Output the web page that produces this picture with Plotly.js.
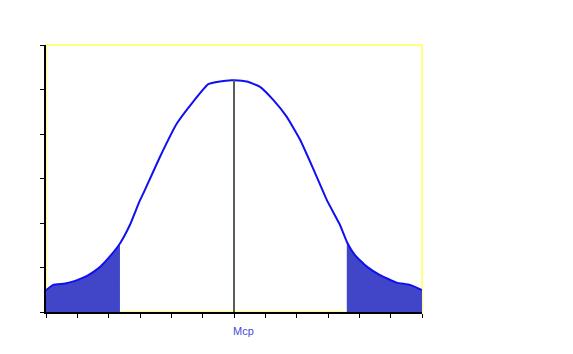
<!DOCTYPE html>
<html>
<head>
<meta charset="utf-8">
<script src="https://cdn.plot.ly/plotly-3.0.1.min.js"></script>
<style>html,body{margin:0;padding:0;background:#fff;}#chart{width:573px;height:354px;}</style>
</head>
<body>
<div id="chart"></div>
<script>
// Curve (x in tick units, centred on Mcp; y in axis-tick units)
const curveX = [-6, -5.77, -5.39, -5.07, -4.69, -4.33, -4.01, -3.64, -3.32, -3.02, -2.89, -2.36, -1.82, -1.30, -0.82, -0.45, -0.07, 0, 0.41, 0.83, 1.26, 1.68, 2.11, 2.54, 2.96, 3.38, 3.60, 3.86, 4.24, 4.66, 5.19, 5.62, 6];
const curveY = [0.49, 0.61, 0.64, 0.70, 0.81, 0.98, 1.21, 1.54, 1.96, 2.48, 2.67, 3.49, 4.24, 4.73, 5.12, 5.18, 5.21, 5.21, 5.18, 5.06, 4.76, 4.39, 3.87, 3.20, 2.52, 1.96, 1.58, 1.28, 1.02, 0.83, 0.66, 0.61, 0.49];
const lowerCut = -3.64;
const upperCut = 3.60;
const centreX = 0;
const centreLabel = "Mcp";
const xTicks = [-6,-5,-4,-3,-2,-1,0,1,2,3,4,5,6];
const yTicks = [0,1,2,3,4,5,6];

const leftX = [], leftY = [], rightX = [], rightY = [];
curveX.forEach((x, i) => {
  if (x <= lowerCut) { leftX.push(x); leftY.push(curveY[i]); }
  if (x >= upperCut) { rightX.push(x); rightY.push(curveY[i]); }
});
const peak = curveY[curveX.indexOf(centreX)];
const fillCol = '#4146c8';

const traces = [
  {x: leftX, y: leftY, type: 'scatter', mode: 'lines', fill: 'tozeroy', fillcolor: fillCol, line: {color: fillCol, width: 0, shape: 'spline', smoothing: 0.4}, hoverinfo: 'skip'},
  {x: rightX, y: rightY, type: 'scatter', mode: 'lines', fill: 'tozeroy', fillcolor: fillCol, line: {color: fillCol, width: 0, shape: 'spline', smoothing: 0.4}, hoverinfo: 'skip'},
  {x: curveX, y: curveY, type: 'scatter', mode: 'lines', line: {color: '#1010f0', width: 2, shape: 'spline', smoothing: 0.4}},
  {x: [centreX, centreX], y: [0, peak], type: 'scatter', mode: 'lines', line: {color: '#55605a', width: 2}}
];

const layout = {
  width: 573, height: 354,
  margin: {l: 46, r: 151, t: 45, b: 42},
  paper_bgcolor: '#ffffff', plot_bgcolor: '#ffffff',
  showlegend: false,
  font: {family: 'Arial, Liberation Sans, sans-serif'},
  xaxis: {
    range: [-6, 6], tickmode: 'array', tickvals: xTicks, showticklabels: false,
    ticks: 'outside', ticklen: 4, tickwidth: 1, tickcolor: '#000',
    showline: true, linecolor: '#000', linewidth: 2,
    showgrid: false, zeroline: false
  },
  yaxis: {
    range: [0, 6], tickmode: 'array', tickvals: yTicks, showticklabels: false,
    ticks: 'outside', ticklen: 4, tickwidth: 1, tickcolor: '#000',
    showline: true, linecolor: '#000', linewidth: 2,
    showgrid: false, zeroline: false
  },
  annotations: [
    {x: centreX, xref: 'x', xanchor: 'left', xshift: -3, y: 0, yref: 'paper', yanchor: 'middle', yshift: -19,
     text: centreLabel, showarrow: false, font: {size: 11, color: '#4a4ad6'}}
  ],
  shapes: [
    {type: 'rect', xref: 'x domain', yref: 'y domain', x0: 0, x1: 1, y0: 0, y1: 1, line: {color: '#ffff80', width: 2}, layer: 'below'}
  ]
};

Plotly.newPlot('chart', traces, layout, {staticPlot: true});
</script>
</body>
</html>
